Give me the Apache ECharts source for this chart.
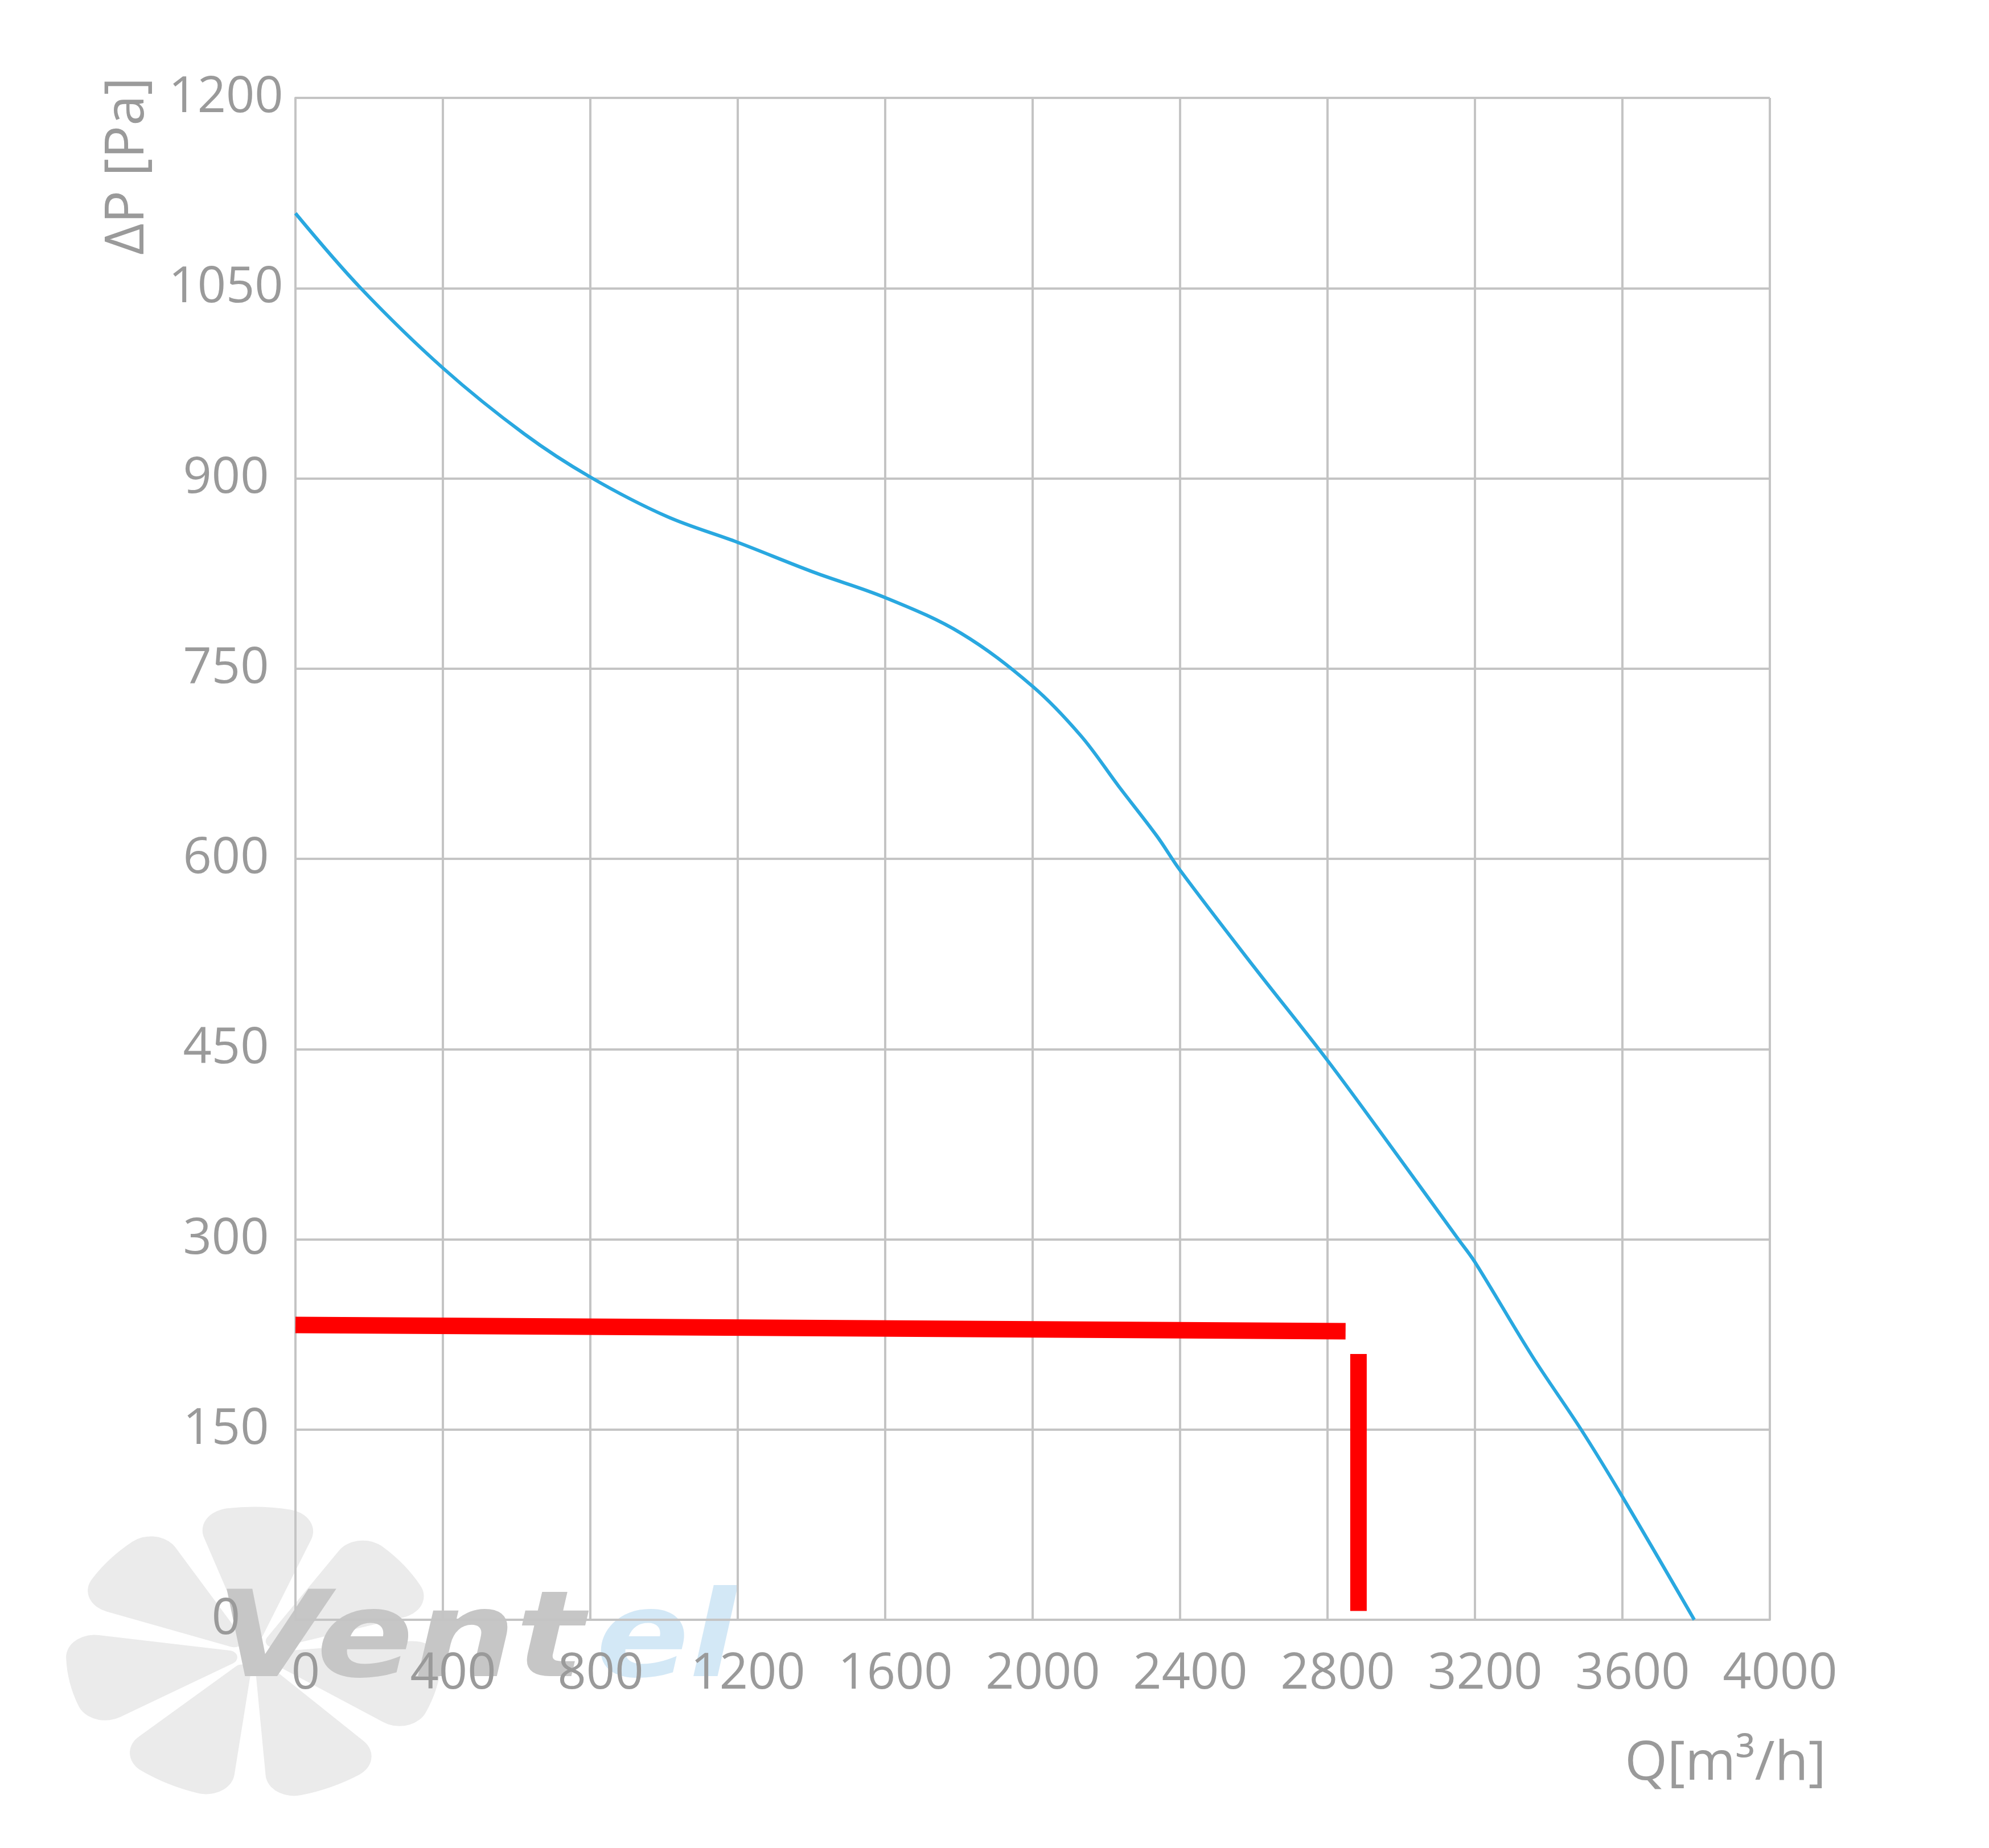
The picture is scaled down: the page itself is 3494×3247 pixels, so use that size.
<!DOCTYPE html>
<html>
<head>
<meta charset="utf-8">
<script src="https://cdn.jsdelivr.net/npm/echarts@6/dist/echarts.min.js"></script>
<style>
  html, body { margin: 0; padding: 0; background: #ffffff; }
  #chart { width: 3494px; height: 3247px; }
</style>
</head>
<body>
<div id="chart"></div>
<script>
// ---- data ----
const flowQ = [0, 177, 400, 621, 800, 1007, 1200, 1406, 1600, 1805, 2000, 2131, 2234, 2337, 2400, 2600, 2800, 3000, 3155, 3200, 3355, 3488, 3600, 3795];
const pressureP = [1109, 1050, 987, 935, 901, 870, 849.5, 826, 806, 778, 736, 697, 657, 618, 591, 515, 441, 362, 300, 282, 208, 150, 97, 0];

const markHQ = [0, 2849];
const markHP = [232.5, 227.5];
const markVQ = [2884, 2884];
const markVP = [209.6, 7];

const xTicks = [0, 400, 800, 1200, 1600, 2000, 2400, 2800, 3200, 3600, 4000];
const yTicks = [0, 150, 300, 450, 600, 750, 900, 1050, 1200];

const xName = 'Q[m³/h]';
const yName = 'ΔP [Pa]';
const brandMain = 'Vent';
const brandTail = 'el';

// ---- build ----
const zip = (a, b) => a.map((v, i) => [v, b[i]]);
const labelColor = '#9a9a9a';
const gridColor = '#c4c4c4';
const fontFam = '"Open Sans", "Noto Sans", sans-serif';

const chart = echarts.init(document.getElementById('chart'), null, { renderer: 'canvas' });

// watermark fan blades (decoration)
const blades = [];
for (let i = 0; i < 7; i++) {
  const start = (200 + i * (360 / 7)) * Math.PI / 180;
  const end = start + 40 * Math.PI / 180;
  blades.push({
    type: 'sector',
    silent: true,
    z: -10,
    shape: { cx: 0, cy: 0, r0: 30, r: 330, startAngle: start, endAngle: end, cornerRadius: 50 },
    style: { fill: '#ebebeb' }
  });
}

const option = {
  backgroundColor: '#ffffff',
  animation: false,
  grid: { left: 519, top: 172, width: 2590, height: 2674, containLabel: false, outerBoundsMode: 'none' },
  xAxis: {
    type: 'value',
    min: xTicks[0],
    max: xTicks[xTicks.length - 1],
    interval: xTicks[1] - xTicks[0],
    axisLine: { show: true, lineStyle: { color: gridColor, width: 4 } },
    axisTick: { show: false },
    splitLine: { show: true, lineStyle: { color: gridColor, width: 4 } },
    axisLabel: {
      color: labelColor, fontSize: 88, fontFamily: fontFam,
      margin: 96, verticalAlign: 'middle', padding: [0, 0, 0, 36],
      formatter: v => String(v)
    }
  },
  yAxis: {
    type: 'value',
    min: yTicks[0],
    max: yTicks[yTicks.length - 1],
    interval: yTicks[1] - yTicks[0],
    axisLine: { show: true, lineStyle: { color: gridColor, width: 4 } },
    axisTick: { show: false },
    splitLine: { show: true, lineStyle: { color: gridColor, width: 4 } },
    axisLabel: {
      color: labelColor, fontSize: 88, fontFamily: fontFam,
      margin: 122, align: 'center',
      formatter: v => String(v)
    }
  },
  graphic: [
    {
      type: 'group', z: -10, silent: true,
      x: 446, y: 2905, scaleY: 0.78,
      children: blades
    },
    {
      type: 'text', z: -5, silent: true,
      x: 379, y: 2890, scaleX: 1.2,
      style: {
        text: brandMain,
        font: 'italic bold 210px "DejaVu Sans", sans-serif',
        fill: '#c6c6c6',
        verticalAlign: 'middle', align: 'left'
      }
    },
    {
      type: 'text', z: -5, silent: true,
      x: 1047, y: 2890, scaleX: 1.15,
      style: {
        text: brandTail,
        font: 'italic bold 210px "DejaVu Sans", sans-serif',
        fill: '#d3e8f6',
        verticalAlign: 'middle', align: 'left'
      }
    },
    {
      type: 'text',
      x: 225, y: 292,
      rotation: Math.PI / 2,
      style: {
        text: yName, font: '96px "Open Sans", "Noto Sans", sans-serif',
        fill: labelColor, align: 'center', verticalAlign: 'middle'
      }
    },
    {
      type: 'text',
      x: 3208, y: 3100,
      style: {
        text: xName, font: '96px "Open Sans", "Noto Sans", sans-serif',
        fill: labelColor, align: 'right', verticalAlign: 'middle'
      }
    }
  ],
  series: [
    {
      type: 'line',
      data: zip(flowQ, pressureP),
      smooth: 0.35,
      showSymbol: false,
      symbol: 'none',
      lineStyle: { color: '#29a8e0', width: 6 },
      z: 3
    },
    {
      type: 'line',
      data: zip(markHQ, markHP),
      symbol: 'none',
      lineStyle: { color: '#ff0000', width: 29, cap: 'butt' },
      clip: false,
      z: 4
    },
    {
      type: 'line',
      data: zip(markVQ, markVP),
      symbol: 'none',
      lineStyle: { color: '#ff0000', width: 29, cap: 'butt' },
      clip: false,
      z: 4
    }
  ]
};
chart.setOption(option);
</script>
</body>
</html>
